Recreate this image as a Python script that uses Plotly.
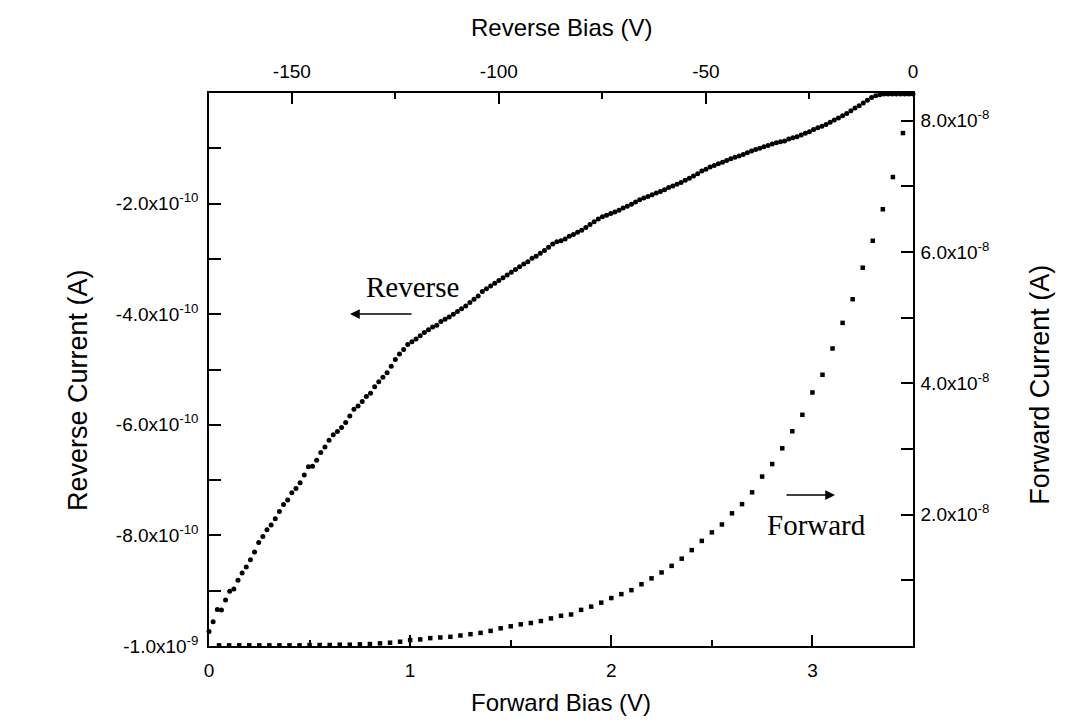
import plotly.graph_objects as go

# ---------------- data ----------------
# Reverse sweep: bias (V, top axis) and current (x1e-10 A, left axis)
reverse_bias = list(range(-170, 1))
reverse_current_e10 = [
    -9.74, -9.56, -9.34, -9.35, -9.17, -9.01, -8.97, -8.81, -8.68, -8.57,
    -8.44, -8.30, -8.13, -8.02, -7.90, -7.81, -7.70, -7.57, -7.44, -7.36,
    -7.23, -7.15, -7.05, -6.91, -6.76, -6.75, -6.64, -6.50, -6.40, -6.28,
    -6.18, -6.12, -6.05, -5.96, -5.84, -5.72, -5.66, -5.58, -5.49, -5.43,
    -5.31, -5.22, -5.14, -5.06, -4.94, -4.82, -4.72, -4.64, -4.55, -4.50,
    -4.45, -4.39, -4.33, -4.28, -4.23, -4.20, -4.13, -4.09, -4.05, -4.00,
    -3.95, -3.90, -3.85, -3.79, -3.73, -3.67, -3.59, -3.54, -3.49, -3.44,
    -3.39, -3.34, -3.29, -3.24, -3.19, -3.14, -3.09, -3.05, -2.99, -2.95,
    -2.90, -2.85, -2.79, -2.73, -2.69, -2.67, -2.64, -2.59, -2.56, -2.52,
    -2.48, -2.43, -2.38, -2.33, -2.28, -2.24, -2.21, -2.18, -2.15, -2.12,
    -2.08, -2.05, -2.01, -1.97, -1.93, -1.90, -1.87, -1.84, -1.81, -1.78,
    -1.75, -1.71, -1.68, -1.65, -1.62, -1.58, -1.54, -1.50, -1.46, -1.41,
    -1.38, -1.34, -1.31, -1.28, -1.25, -1.22, -1.19, -1.16, -1.14, -1.11,
    -1.08, -1.05, -1.02, -1.00, -0.97, -0.95, -0.92, -0.90, -0.88, -0.87,
    -0.83, -0.81, -0.79, -0.76, -0.73, -0.70, -0.66, -0.63, -0.60, -0.57,
    -0.53, -0.49, -0.45, -0.41, -0.37, -0.32, -0.27, -0.23, -0.18, -0.13,
    -0.08, -0.05, -0.03, -0.02, -0.02, -0.02, -0.02, -0.02, -0.02, -0.02,
    -0.02,
]
reverse_current = [v * 1e-10 for v in reverse_current_e10]

# Forward sweep: bias (V, bottom axis) and current (x1e-8 A, right axis)
forward_bias = [
    0.05, 0.10, 0.15, 0.20, 0.25, 0.30, 0.35, 0.40, 0.45, 0.50,
    0.55, 0.60, 0.65, 0.70, 0.75, 0.80, 0.85, 0.90, 0.95, 1.00,
    1.05, 1.10, 1.15, 1.20, 1.25, 1.30, 1.35, 1.40, 1.45, 1.50,
    1.55, 1.60, 1.65, 1.70, 1.75, 1.80, 1.85, 1.90, 1.95, 2.00,
    2.05, 2.10, 2.15, 2.20, 2.25, 2.30, 2.35, 2.40, 2.45, 2.50,
    2.55, 2.60, 2.65, 2.70, 2.75, 2.80, 2.85, 2.90, 2.95, 3.00,
    3.05, 3.10, 3.15, 3.20, 3.25, 3.30, 3.35, 3.40, 3.45,
]
forward_current_e8 = [
    0.01, 0.01, 0.01, 0.01, 0.01, 0.01, 0.01, 0.01, 0.01, 0.015,
    0.015, 0.015, 0.02, 0.02, 0.025, 0.03, 0.04, 0.05, 0.065, 0.09,
    0.10, 0.12, 0.13, 0.14, 0.16, 0.18, 0.20, 0.23, 0.27, 0.30,
    0.33, 0.35, 0.38, 0.42, 0.46, 0.48, 0.55, 0.60, 0.66, 0.73,
    0.79, 0.85, 0.94, 1.03, 1.12, 1.22, 1.33, 1.46, 1.60, 1.73,
    1.85, 2.02, 2.16, 2.34, 2.58, 2.77, 3.01, 3.27, 3.52, 3.86,
    4.13, 4.53, 4.92, 5.28, 5.76, 6.17, 6.65, 7.14, 7.81,
]
forward_current = [v * 1e-8 for v in forward_current_e8]

# Tick definitions
bottom_ticks = [0, 1, 2, 3]
bottom_minor = [0.5, 1.5, 2.5]
top_ticks = [-150, -100, -50, 0]
top_minor = [-125, -75, -25]
left_ticks = [-1.0e-9, -8e-10, -6e-10, -4e-10, -2e-10]
left_labels = ["-1.0x10<sup>-9</sup>", "-8.0x10<sup>-10</sup>", "-6.0x10<sup>-10</sup>",
               "-4.0x10<sup>-10</sup>", "-2.0x10<sup>-10</sup>"]
left_minor = [-9e-10, -7e-10, -5e-10, -3e-10, -1e-10]
right_ticks = [2e-8, 4e-8, 6e-8, 8e-8]
right_labels = ["2.0x10<sup>-8</sup>", "4.0x10<sup>-8</sup>", "6.0x10<sup>-8</sup>",
                "8.0x10<sup>-8</sup>"]
right_minor = [1e-8, 3e-8, 5e-8, 7e-8]

SANS = "Arial, Liberation Sans, sans-serif"
SERIF = "Times New Roman, Liberation Serif, serif"
TICKFONT = dict(family=SANS, size=19, color="black")
TITLEFONT = dict(family=SANS, size=24, color="black")
VTITLEFONT = dict(family=SANS, size=27, color="black")

fig = go.Figure()
fig.add_trace(go.Scatter(
    x=reverse_bias, y=reverse_current, xaxis="x2", yaxis="y",
    mode="markers", marker=dict(symbol="circle", size=5, color="black"),
    cliponaxis=False, showlegend=False, name="Reverse"))
fig.add_trace(go.Scatter(
    x=forward_bias, y=forward_current, xaxis="x", yaxis="y2",
    mode="markers", marker=dict(symbol="square", size=4.5, color="black"),
    cliponaxis=False, showlegend=False, name="Forward"))

axis_common = dict(showline=True, linecolor="black", linewidth=1.5, mirror=False,
                   ticks="inside", tickcolor="black", tickwidth=1.5,
                   showgrid=False, zeroline=False, tickfont=TICKFONT)


def minor_ticks(vals, length):
    return dict(tickvals=vals, ticks="inside", ticklen=length,
                tickcolor="black", tickwidth=1.5, showgrid=False)


fig.update_layout(
    width=1091, height=727, autosize=False,
    margin=dict(l=209, r=178, t=93, b=81),
    paper_bgcolor="white", plot_bgcolor="rgba(0,0,0,0)",
    xaxis=dict(range=[0, 3.5], tickmode="array", tickvals=bottom_ticks,
               ticktext=[str(t) for t in bottom_ticks], ticklen=11,
               minor=minor_ticks(bottom_minor, 6),
               ticklabelstandoff=6, anchor="y2", **axis_common),
    xaxis2=dict(range=[-170, 0], overlaying="x", side="top", anchor="y",
                tickmode="array", tickvals=top_ticks,
                ticktext=[str(t) for t in top_ticks], ticklen=11,
                minor=minor_ticks(top_minor, 6),
                ticklabelstandoff=6, **axis_common),
    yaxis=dict(range=[-1.0e-9, 0], tickmode="array", tickvals=left_ticks,
               ticktext=left_labels, ticklen=12, ticklabelstandoff=5,
               minor=minor_ticks(left_minor, 12),
               anchor="x2", **axis_common),
    yaxis2=dict(range=[0, 8.42e-8], overlaying="y", side="right", anchor="x",
                tickmode="array", tickvals=right_ticks, ticktext=right_labels,
                minor=minor_ticks(right_minor, 12),
                ticklen=12, ticklabelstandoff=2, **axis_common),
    annotations=[
        dict(text="Forward Bias (V)", xref="paper", yref="paper", x=0.5, y=-0.103,
             xanchor="center", yanchor="middle", showarrow=False, font=TITLEFONT),
        dict(text="Reverse Bias (V)", xref="paper", yref="paper", x=0.5, y=1.119,
             xanchor="center", yanchor="middle", showarrow=False, font=TITLEFONT),
        dict(text="Reverse Current (A)", xref="paper", yref="paper", x=-0.186, y=0.463,
             xanchor="center", yanchor="middle", textangle=-90, showarrow=False, font=VTITLEFONT),
        dict(text="Forward Current (A)", xref="paper", yref="paper", x=1.180, y=0.472,
             xanchor="center", yanchor="middle", textangle=-90, showarrow=False, font=VTITLEFONT),
        # in-plot labels
        dict(text="Reverse", xref="paper", yref="paper", x=(412 - 209) / 704, y=(646 - 287) / 553,
             xanchor="center", yanchor="middle", showarrow=False,
             font=dict(family=SERIF, size=29, color="black")),
        dict(text="Forward", xref="paper", yref="paper", x=(816 - 209) / 704, y=(646 - 525) / 553,
             xanchor="center", yanchor="middle", showarrow=False,
             font=dict(family=SERIF, size=29, color="black")),
        dict(text="", xref="paper", yref="paper", x=(350 - 209) / 704, y=(646 - 314) / 553,
             axref="pixel", ayref="pixel", ax=63, ay=0,
             showarrow=True, arrowhead=2, arrowsize=1.5, arrowwidth=1.3, arrowcolor="black"),
        dict(text="", xref="paper", yref="paper", x=(835 - 209) / 704, y=(646 - 495) / 553,
             axref="pixel", ayref="pixel", ax=-50, ay=0,
             showarrow=True, arrowhead=2, arrowsize=1.5, arrowwidth=1.3, arrowcolor="black"),
    ],
)

fig.write_html("out.html")
